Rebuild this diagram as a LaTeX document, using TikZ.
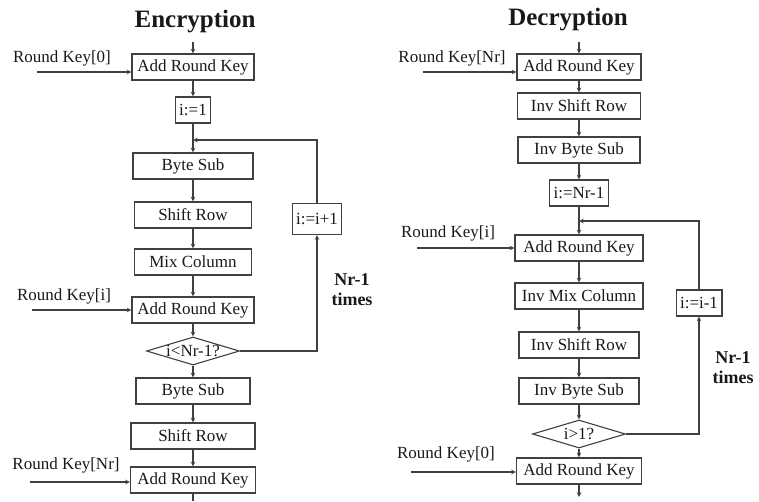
\documentclass[tikz,border=0pt]{standalone}
\usepackage{fontspec}
\setmainfont{Liberation Serif}
\usetikzlibrary{positioning,shapes.geometric}

\begin{document}
\begin{tikzpicture}[
                x=1pt, y=-1pt,                % 像素坐标, y 向下
                node distance=47pt,
                every node/.style={
                    font=\fontsize{17}{19}\selectfont,
                    text=black!90
                },
                box/.style={draw=black!75, rectangle, minimum width=120pt, minimum height=26pt, inner xsep=5pt},
                cnt/.style={draw=black!75, rectangle, minimum height=26pt, inner xsep=4pt},
                test/.style={draw=black!75, diamond, aspect=3.3, inner sep=0pt, minimum width=93pt, minimum height=28pt},
                title/.style={font=\bfseries\fontsize{25}{28}\selectfont},
                times/.style={font=\bfseries\fontsize{18}{20}\selectfont, align=center},
                >=stealth,
                line width=1.1pt,
                arrow/.style={->, draw=black!75}
            ]
                \useasboundingbox (0,0) rectangle (759,501);

                % 加密
                \node[title] (enc) at (195,22) {Encryption};
                \node[box, minimum width=122pt] (ark1) at (193,67) {Add Round Key};
                \node[coordinate] (in1) [above of=ark1, node distance=25pt] {};
                \node[cnt] (init1) [below of=ark1, node distance=43pt] {i:=1};
                \node[coordinate] (j1) [below of=init1, node distance=30pt] {};
                \node[box] (bs1) [below of=init1, node distance=56pt] {Byte Sub};
                \node[box, minimum width=117pt] (sr1) [below of=bs1, node distance=49pt] {Shift Row};
                \node[box, minimum width=117pt] (mc1) [below of=sr1] {Mix Column};
                \node[box, minimum width=122pt] (ark2) [below of=mc1, node distance=48pt] {Add Round Key};
                \node[test] (dia1) [below of=ark2, node distance=41pt] {i<Nr-1?};
                \node[box, minimum width=114pt] (bs2) [below of=dia1, node distance=40pt] {Byte Sub};
                \node[box, minimum width=124pt] (sr2) [below of=bs2, node distance=45pt] {Shift Row};
                \node[box, minimum width=125pt] (ark3) [below of=sr2, node distance=44pt] {Add Round Key};
                \node[coordinate] (out1) [below of=ark3, node distance=21pt] {};
                \node[cnt, minimum height=31pt] (inc1) [right of=sr1, node distance=124pt, yshift=-4pt] {i:=i+1};
                \node[times] (nr1) at (352,290) {Nr-1\\times};

                % 轮密钥
                \node (k0) at (62,58) {Round Key[0]};
                \node[coordinate] (k0s) at (37,72) {};
                \node (ki) at (64,296) {Round Key[i]};
                \node[coordinate] (kis) at (32,310) {};
                \node (knr) at (66,465) {Round Key[Nr]};
                \node[coordinate] (knrs) at (30,482) {};

                % 边
                \draw[arrow] (in1) -- (ark1);
                \draw[arrow] (ark1) -- (init1);
                \draw[arrow] (init1) -- (bs1);
                \draw[arrow] (bs1) -- (sr1);
                \draw[arrow] (sr1) -- (mc1);
                \draw[arrow] (mc1) -- (ark2);
                \draw[arrow] (ark2) -- (dia1);
                \draw[arrow] (dia1) -- (bs2);
                \draw[arrow] (bs2) -- (sr2);
                \draw[arrow] (sr2) -- (ark3);
                \draw[draw=black!75] (ark3) -- (out1);
                \draw[arrow] (dia1.east) -| (inc1.south);
                \draw[arrow] (inc1.north) |- (j1);
                \draw[arrow] (k0s) -- (k0s -| ark1.west);
                \draw[arrow] (kis) -- (kis -| ark2.west);
                \draw[arrow] (knrs) -- (knrs -| ark3.west);

                % 解密
                \node[title] (dec) at (568,20) {Decryption};
                \node[box, minimum width=124pt] (dark1) at (579,67) {Add Round Key};
                \node[coordinate] (in2) [above of=dark1, node distance=25pt] {};
                \node[box, minimum width=123pt] (isr1) [below of=dark1, node distance=39pt] {Inv Shift Row};
                \node[box, minimum width=122pt] (ibs1) [below of=isr1, node distance=44pt] {Inv Byte Sub};
                \node[cnt] (init2) [below of=ibs1, node distance=43pt] {i:=Nr-1};
                \node[coordinate] (j2) [below of=init2, node distance=28pt] {};
                \node[box, minimum width=128pt] (dark2) [below of=init2, node distance=55pt] {Add Round Key};
                \node[box, minimum width=128pt] (imc) [below of=dark2, node distance=48pt] {Inv Mix Column};
                \node[box] (isr2) [below of=imc, node distance=49pt] {Inv Shift Row};
                \node[box] (ibs2) [below of=isr2, node distance=46pt] {Inv Byte Sub};
                \node[test] (dia2) [below of=ibs2, node distance=43pt] {i>1?};
                \node[box, minimum width=125pt] (dark3) [below of=dia2, node distance=37pt] {Add Round Key};
                \node[coordinate] (out2) [below of=dark3, node distance=26pt] {};
                \node[cnt] (dec1) [right of=imc, node distance=120pt, yshift=-7pt] {i:=i-1};
                \node[times] (nr2) at (733,368) {Nr-1\\times};

                % 轮密钥
                \node (dk0) at (452,58) {Round Key[Nr]};
                \node[coordinate] (dk0s) at (423,72) {};
                \node (dki) at (448,233) {Round Key[i]};
                \node[coordinate] (dkis) at (417,248) {};
                \node (dknr) at (446,454) {Round Key[0]};
                \node[coordinate] (dknrs) at (411,472) {};

                % 边
                \draw[arrow] (in2) -- (dark1);
                \draw[arrow] (dark1) -- (isr1);
                \draw[arrow] (isr1) -- (ibs1);
                \draw[arrow] (ibs1) -- (init2);
                \draw[arrow] (init2) -- (dark2);
                \draw[arrow] (dark2) -- (imc);
                \draw[arrow] (imc) -- (isr2);
                \draw[arrow] (isr2) -- (ibs2);
                \draw[arrow] (ibs2) -- (dia2);
                \draw[arrow] (dia2) -- (dark3);
                \draw[arrow] (dark3) -- (out2);
                \draw[arrow] (dia2.east) -| (dec1.south);
                \draw[arrow] (dec1.north) |- (j2);
                \draw[arrow] (dk0s) -- (dk0s -| dark1.west);
                \draw[arrow] (dkis) -- (dkis -| dark2.west);
                \draw[arrow] (dknrs) -- (dknrs -| dark3.west);
            \end{tikzpicture}
\end{document}
